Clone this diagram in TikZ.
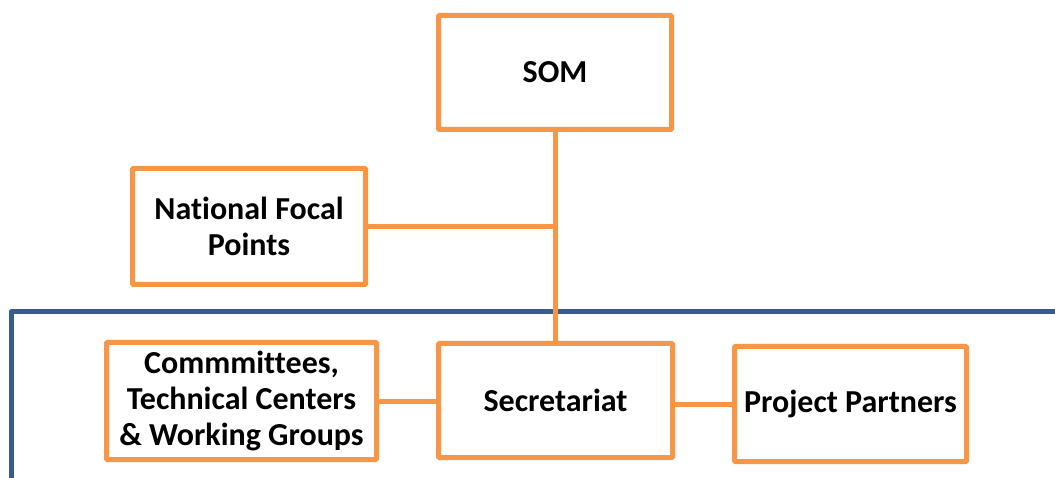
\documentclass[tikz,border=0pt]{standalone}
\usepackage{fontspec}
\setmainfont[Ligatures={NoCommon}]{Carlito}
\definecolor{boxorange}{RGB}{247,150,70}
\definecolor{frameblue}{RGB}{56,93,138}
\begin{document}
\begin{tikzpicture}[x=1pt,y=-1pt,
  orgbox/.style={draw=boxorange, line width=5pt, fill=white, rounded corners=1pt,
    inner sep=0pt, align=center, font=\fontsize{32}{36}\selectfont\bfseries},
  link/.style={draw=boxorange, line width=5pt}]
\useasboundingbox (0,0) rectangle (1055,478);
\begin{scope}
\clip (0,0) rectangle (1055,478);
\draw[frameblue, line width=5pt, line join=round] (11,490) -- (11,312) -- (1070,312);
\end{scope}
\node[orgbox, minimum width=233pt, minimum height=114pt] (som) at (555,72.5) {SOM};
\node[orgbox, minimum width=233pt, minimum height=116pt] (nfp) at (249,226.5) {National Focal\\Points};
\node[orgbox, minimum width=270pt, minimum height=117pt] (com) at (241.5,401) {Commmittees,\\Technical Centers\\\&~Working Groups};
\node[orgbox, minimum width=234pt, minimum height=114pt] (sec) at (555.5,400.5) {Secretariat};
\node[orgbox, minimum width=232pt, minimum height=115pt] (pp) at (850.5,404) {Project Partners};
\coordinate (junc) at (som.south |- nfp.east);
\draw[link] (som.south) -- (som.south |- sec.north);
\draw[link] (nfp.east) -- (junc);
\draw[link] (com.east) -- (com.east -| sec.west);
\draw[link] (pp.west) -- (pp.west -| sec.east);
\end{tikzpicture}
\end{document}
